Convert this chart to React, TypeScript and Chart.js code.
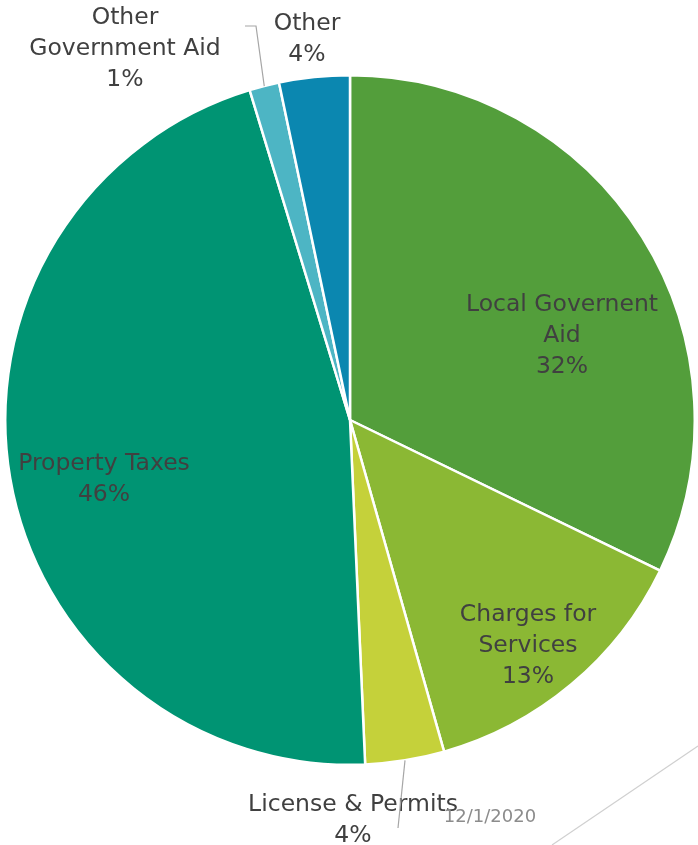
import React, { useEffect, useRef } from "react";
import { Chart, registerables } from "chart.js";

Chart.register(...registerables);

const categories = [
  "Local Governent Aid",
  "Charges for Services",
  "License & Permits",
  "Property Taxes",
  "Other Government Aid",
  "Other",
];
const values = [32.2, 13.4, 3.7, 46.0, 1.4, 3.3];
const percentLabels = ["32%", "13%", "4%", "46%", "1%", "4%"];
const labelLines = [
  ["Local Governent", "Aid"],
  ["Charges for", "Services"],
  ["License & Permits"],
  ["Property Taxes"],
  ["Other", "Government Aid"],
  ["Other"],
];
const colors = ["#539E3B", "#8BB834", "#C5D13A", "#009473", "#4DB5C4", "#0B87B0"];
// label center offsets relative to pie center (px), first line y
const labelPos = [
  [212, -115],
  [178, 195],
  [3, 385],
  [-246, 44],
  [-225, -402],
  [-43, -396],
];
const dateText = "12/1/2020";

const FONT = '"DejaVu Sans", sans-serif';

const labelPlugin = {
  id: "labels",
  afterDraw(chart: any) {
    const ctx = chart.ctx;
    const meta = chart.getDatasetMeta(0);
    const arc0 = meta.data[0];
    const cx = arc0.x;
    const cy = arc0.y;
    const r = arc0.outerRadius;
    ctx.save();
    ctx.textAlign = "center";
    ctx.textBaseline = "middle";
    ctx.font = `23.5px ${FONT}`;
    ctx.fillStyle = "#404040";
    const lh = 31;
    labelLines.forEach((lines, i) => {
      const [ox, oy] = labelPos[i];
      const all = [...lines, percentLabels[i]];
      all.forEach((t, j) => {
        ctx.fillText(t, cx + ox, cy + oy + j * lh);
      });
    });
    // leader lines
    ctx.strokeStyle = "#A6A6A6";
    ctx.lineWidth = 1.2;
    const edge = (i: number) => {
      const a = meta.data[i];
      const mid = (a.startAngle + a.endAngle) / 2;
      return [cx + r * Math.cos(mid), cy + r * Math.sin(mid)];
    };
    // Other Government Aid
    let [ex, ey] = edge(4);
    ctx.beginPath();
    ctx.moveTo(ex, ey);
    ctx.lineTo(cx - 94, cy - 394);
    ctx.lineTo(cx - 105, cy - 394);
    ctx.stroke();
    // License & Permits
    [ex, ey] = edge(2);
    ctx.beginPath();
    ctx.moveTo(ex, ey);
    ctx.lineTo(cx + 48, cy + 408);
    ctx.stroke();
    // decoration line
    ctx.strokeStyle = "#D0D0D0";
    ctx.lineWidth = 1.2;
    ctx.beginPath();
    ctx.moveTo(698, 746);
    ctx.lineTo(552, 845);
    ctx.stroke();
    // date
    ctx.font = `18px ${FONT}`;
    ctx.fillStyle = "#8C8C8C";
    ctx.fillText(dateText, 490, 817);
    ctx.restore();
  },
};

export default function App() {
  const ref = useRef<HTMLCanvasElement>(null);
  useEffect(() => {
    if (!ref.current) return;
    const chart = new Chart(ref.current, {
      type: "pie",
      data: {
        labels: categories,
        datasets: [
          {
            data: values,
            backgroundColor: colors,
            borderColor: "#FFFFFF",
            borderWidth: 2.5,
          },
        ],
      },
      options: {
        responsive: false,
        animation: false,
        layout: { padding: { left: 4, right: 2, top: 74, bottom: 79 } },
        plugins: {
          legend: { display: false },
          tooltip: { enabled: false },
        },
      },
      plugins: [labelPlugin],
    });
    return () => chart.destroy();
  }, []);
  return (
    <div style={{ position: "absolute", left: 0, top: 0, width: 698, height: 845, background: "#fff" }}>
      <canvas ref={ref} width={698} height={845} />
    </div>
  );
}
